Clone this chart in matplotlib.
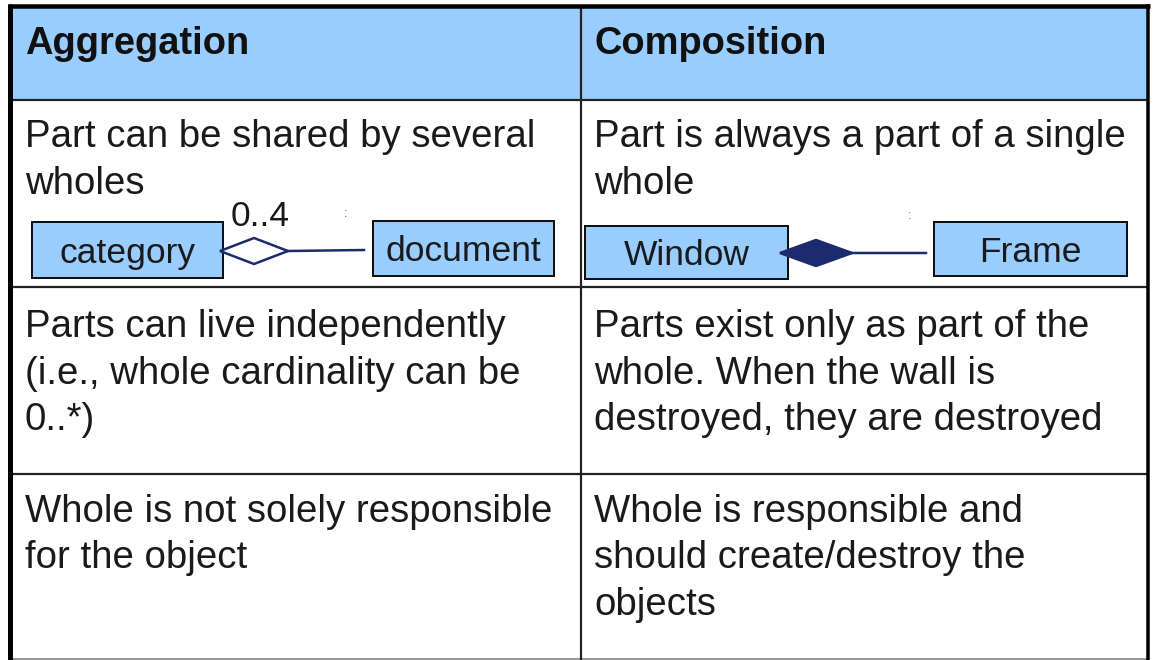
import matplotlib
matplotlib.use("Agg")
import matplotlib.pyplot as plt
from matplotlib.patches import Rectangle, Polygon

# table content
headers = ["Aggregation", "Composition"]
row_texts = [
    [["Part can be shared by several", "wholes"],
     ["Part is always a part of a single", "whole"]],
    [["Parts can live independently", "(i.e., whole cardinality can be", "0..*)"],
     ["Parts exist only as part of the", "whole. When the wall is", "destroyed, they are destroyed"]],
    [["Whole is not solely responsible", "for the object"],
     ["Whole is responsible and", "should create/destroy the", "objects"]],
]
agg_boxes = ["category", "document"]
comp_boxes = ["Window", "Frame"]
multiplicity = "0..4"

# layout in pixels
W, H = 1160, 660
col_x = [10, 581, 1148]
row_y = [6, 100, 287, 474, 659]
text_x = [25, 594]
first_line = [137, 327, 512]
line_gap = 46.5

BLUE = "#99CCFF"
NAVY = "#1C2A6E"
TXT = "#1a1a1a"
FONT = "Liberation Sans"

fig = plt.figure(figsize=(W / 100, H / 100), dpi=100)
ax = fig.add_axes([0, 0, 1, 1])
ax.set_xlim(0, W)
ax.set_ylim(H, 0)
ax.axis("off")

lw = lambda px: px * 0.72

# header background
ax.add_patch(Rectangle((col_x[0], row_y[0]), col_x[2] - col_x[0], row_y[1] - row_y[0],
                       facecolor=BLUE, edgecolor="none", zorder=0))

# grid lines
for y in row_y[1:4]:
    ax.plot([col_x[0], col_x[2]], [y, y], color="#222222", lw=lw(2.2), solid_capstyle="butt")
ax.plot([col_x[0], col_x[2]], [row_y[4], row_y[4]], color="#999999", lw=lw(2), solid_capstyle="butt")
ax.plot([col_x[1], col_x[1]], [row_y[0], row_y[4] + 1], color="#222222", lw=lw(2.2), solid_capstyle="butt")
# outer border
ax.plot([col_x[0] - 2, col_x[2] + 2], [row_y[0], row_y[0]], color="black", lw=lw(4.5), solid_capstyle="butt")
ax.plot([col_x[0], col_x[0]], [row_y[0] - 2, H], color="black", lw=lw(5), solid_capstyle="butt")
ax.plot([col_x[2], col_x[2]], [row_y[0] - 2, H], color="black", lw=lw(3.5), solid_capstyle="butt")

# header text
for c, h in enumerate(headers):
    ax.text(text_x[c], 44, h, fontsize=27.4, fontweight="bold", family=FONT,
            color="#111111", va="center", ha="left")

# body text
for r, row in enumerate(row_texts):
    for c, lines in enumerate(row):
        for i, line in enumerate(lines):
            ax.text(text_x[c], first_line[r] + i * line_gap, line, fontsize=27.6,
                    family=FONT, color=TXT, va="center", ha="left")


def uml_box(x0, y0, x1, y1, label):
    ax.add_patch(Rectangle((x0, y0), x1 - x0, y1 - y0, facecolor=BLUE,
                           edgecolor="#111111", lw=lw(2), zorder=2))
    ax.text((x0 + x1) / 2, (y0 + y1) / 2 + 3, label, fontsize=25.5, family=FONT,
            color=TXT, va="center", ha="center", zorder=3)


def diamond(x0, x1, yc, half_h, filled):
    pts = [(x0, yc), ((x0 + x1) / 2, yc - half_h), (x1, yc), ((x0 + x1) / 2, yc + half_h)]
    ax.add_patch(Polygon(pts, closed=True, facecolor=NAVY if filled else "white",
                         edgecolor=NAVY, lw=lw(2.5), zorder=3))


# aggregation diagram
uml_box(32, 222, 223, 278, agg_boxes[0])
uml_box(373, 221, 554, 276, agg_boxes[1])
diamond(220, 288, 251, 13, False)
ax.plot([288, 364], [251, 250], color=NAVY, lw=lw(2.5), zorder=2)
ax.text(231, 217, multiplicity, fontsize=25.5, family=FONT, color=TXT, va="center", ha="left")
ax.text(346, 214, ":", fontsize=9, family=FONT, color="#555555", va="center", ha="center")

# composition diagram
uml_box(585, 226, 788, 279, comp_boxes[0])
uml_box(934, 222, 1127, 276, comp_boxes[1])
diamond(780, 852, 253, 13, True)
ax.plot([850, 926], [253, 253], color=NAVY, lw=lw(2.5), zorder=2)
ax.text(910, 216, ":", fontsize=9, family=FONT, color="#555555", va="center", ha="center")

fig.savefig("out.png", dpi=100, facecolor="white")
plt.close(fig)
